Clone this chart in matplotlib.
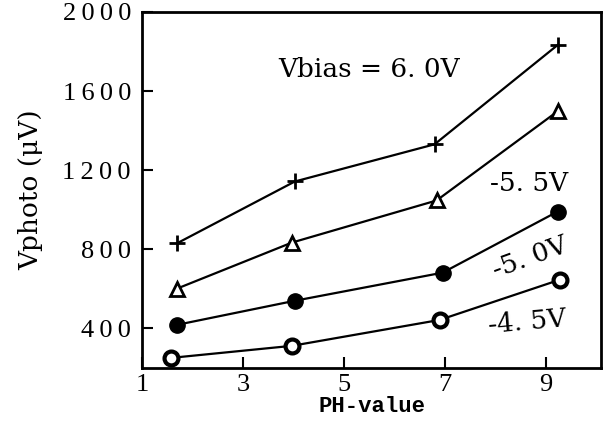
import numpy as np
import matplotlib
matplotlib.use("Agg")
import matplotlib.pyplot as plt
from matplotlib.ticker import FuncFormatter

# data
ph_plus = [1.69, 4.03, 6.80, 9.24]
v_60 = [830, 1143, 1331, 1833]
ph_tri = [1.69, 3.97, 6.84, 9.24]
v_55 = [601, 834, 1047, 1498]
ph_fill = [1.69, 4.03, 6.96, 9.24]
v_50 = [418, 540, 682, 991]
ph_open = [1.57, 3.97, 6.90, 9.28]
v_45 = [251, 312, 443, 646]

xticks = [1, 3, 5, 7, 9]
yticks = [400, 800, 1200, 1600, 2000]

fig = plt.figure(figsize=(6.08, 4.21), dpi=100)
ax = fig.add_axes([0.2336, 0.1259, 0.7549, 0.8456])

ax.plot(ph_plus, v_60, color='k', lw=1.6, marker='+', ms=12, mew=2)
ax.plot(ph_tri, v_55, color='k', lw=1.6, marker='^', ms=10, mfc='white', mew=2)
ax.plot(ph_fill, v_50, color='k', lw=1.6, marker='o', ms=11, mfc='k')
ax.plot(ph_open, v_45, color='k', lw=1.6, marker='o', ms=10, mfc='white', mew=3)

ax.set_xlim(1, 10.1)
ax.set_ylim(200, 2000)
ax.set_xticks(xticks)
ax.set_yticks(yticks)
spaced = FuncFormatter(lambda v, p: '\u2009'.join(str(int(v))))
ax.yaxis.set_major_formatter(spaced)
ax.tick_params(direction='in', length=8, width=1.5, labelsize=19)
ax.tick_params(axis='y', pad=8)
ax.tick_params(axis='x', pad=4)
for lab in ax.get_xticklabels() + ax.get_yticklabels():
    lab.set_family('Liberation Serif')
for s in ax.spines.values():
    s.set_linewidth(2)

ax.set_ylabel('Vphoto (\u03bcV)', family='DejaVu Serif', fontsize=19, labelpad=14)
ax.set_xlabel('PH-value', family='Liberation Mono', fontweight='bold', fontsize=16, labelpad=0)

tkw = dict(family='DejaVu Serif', fontsize=19, color='k', ha='center', va='center',
           rotation_mode='anchor')
ax.text(5.51, 1711, 'Vbias = 6. 0V', **tkw)
ax.text(8.68, 1133, '-5. 5V', **tkw)
ax.text(8.70, 758, '-5. 0V', rotation=20, **tkw)
ax.text(8.64, 433, '-4. 5V', rotation=5, **tkw)

fig.savefig('out.png', dpi=100)
